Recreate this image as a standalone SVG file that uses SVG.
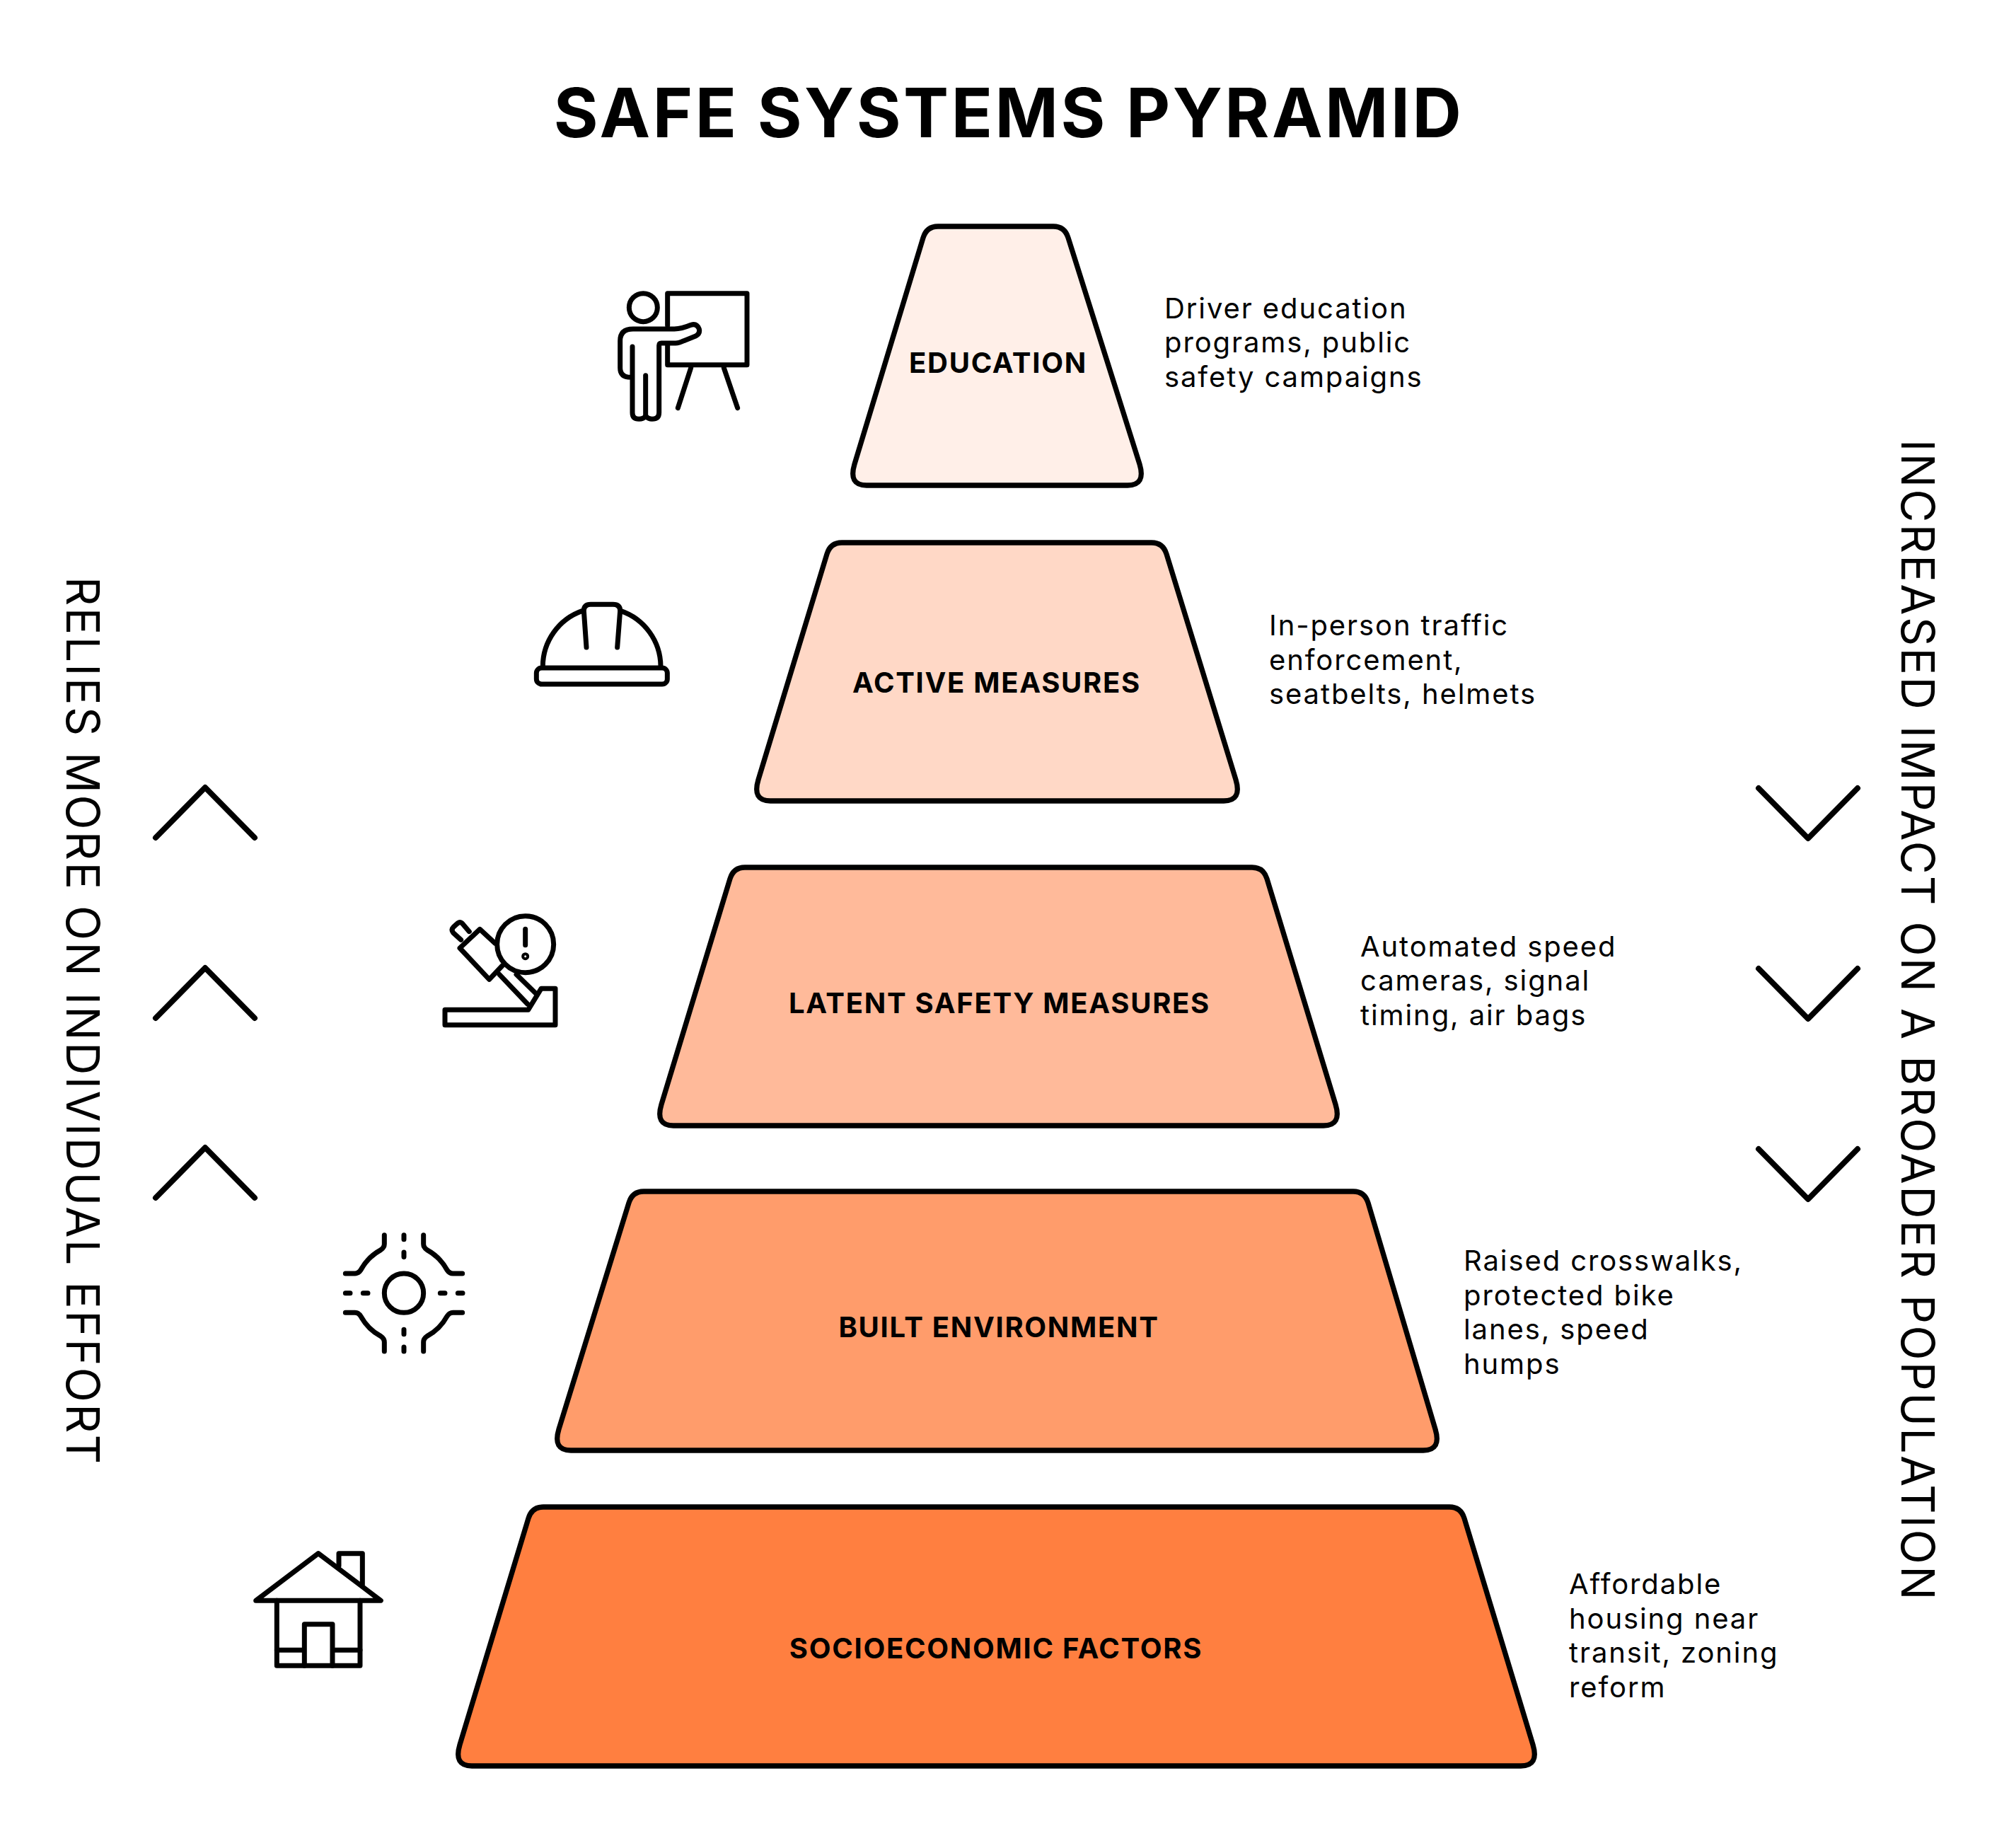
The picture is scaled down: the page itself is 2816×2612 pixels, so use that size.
<svg xmlns="http://www.w3.org/2000/svg" width="2816" height="2612" viewBox="0 0 2816 2612">
<style>
text{font-family:Inter,"Liberation Sans",sans-serif;fill:#000}
.title{font-size:96px;font-weight:700;letter-spacing:3.5px;text-anchor:middle}
.lab{font-size:40px;font-weight:700;letter-spacing:1.7px;text-anchor:middle}
.desc{font-size:40px;letter-spacing:1.9px}
.side{font-size:64px;letter-spacing:2.5px}
.trap{stroke:#000;stroke-width:7.3;stroke-linejoin:round}
.ic{fill:none;stroke:#000;stroke-width:21;stroke-linecap:round;stroke-linejoin:round}
.chev{fill:none;stroke:#000;stroke-width:8;stroke-linecap:round;stroke-linejoin:round}
</style>
<rect width="2816" height="2612" fill="#fff"/>
<text class="title" x="1426" y="194">SAFE SYSTEMS PYRAMID</text>
<g id="education">
<path class="trap" fill="#FFEFE8" d="M1305,336 Q1310,320 1326,320 H1489 Q1505,320 1510,336 L1611,656 Q1620,686 1594,686 H1225 Q1199,686 1208,656 Z"/>
<text class="lab" x="1411" y="527">EDUCATION</text>
<text class="desc"><tspan x="1646" y="450">Driver education</tspan><tspan x="1646" y="498">programs, public</tspan><tspan x="1646" y="547">safety campaigns</tspan></text>
<g class="ic" transform="translate(820 360) scale(.33333)">
<circle cx="268" cy="224" r="60"/>
<path d="M371,300 V164 H708 V467 H371 V385"/>
<path d="M470,480 L415,650 M610,480 L668,650"/>
<path d="M222,390 V670 Q222,697 250,697 Q268,697 278,685 Q290,697 305,697 Q335,697 335,670 V385 Q335,375 345,375 H405 Q420,375 440,365 L490,345 Q510,335 505,315 Q495,290 470,298 Q430,315 400,315 H225 Q170,315 170,365 V480 Q170,520 215,520"/>
<path d="M278,512 V685"/>
</g>
</g>
<g id="active-measures">
<path class="trap" fill="#FFD8C6" d="M1169,783 Q1174,767 1190,767 H1628 Q1644,767 1649,783 L1747,1102 Q1756,1132 1730,1132 H1089 Q1063,1132 1072,1102 Z"/>
<text class="lab" x="1409" y="979">ACTIVE MEASURES</text>
<text class="desc"><tspan x="1794" y="898">In-person traffic</tspan><tspan x="1794" y="947">enforcement,</tspan><tspan x="1794" y="995">seatbelts, helmets</tspan></text>
<g class="ic" transform="translate(720 820) scale(.33333)">
<path d="M142,365 A250,250 0 0 1 310,130 M472,130 A250,250 0 0 1 642,365"/>
<rect x="115" y="372" width="555" height="69" rx="22"/>
<path d="M327,285 L316,130 Q316,103 345,103 H440 Q470,103 470,130 L458,285"/>
</g>
</g>
<g id="latent-safety-measures">
<path class="trap" fill="#FFBA9A" d="M1032,1242 Q1037,1226 1053,1226 H1770 Q1786,1226 1791,1242 L1888,1561 Q1897,1591 1871,1591 H952 Q926,1591 935,1561 Z"/>
<text class="lab" x="1413" y="1432">LATENT SAFETY MEASURES</text>
<text class="desc"><tspan x="1923" y="1352">Automated speed</tspan><tspan x="1923" y="1400">cameras, signal</tspan><tspan x="1923" y="1449">timing, air bags</tspan></text>
<g class="ic" transform="translate(600 1270) scale(.33333)">
<circle cx="428" cy="194" r="120"/>
<path d="M428,130 V197"/>
<circle cx="428" cy="245" r="6"/>
<path d="M300,190 L235,130 L150,210 L275,343 L330,285"/>
<path d="M190,140 L160,105 Q150,95 135,110 L122,122 Q112,132 122,145 L155,175"/>
<path d="M318,322 L437,447 M390,322 L475,405"/>
<path d="M440,472 H87 V536 H555 V382 H495 Z"/>
</g>
</g>
<g id="built-environment">
<path class="trap" fill="#FF9C6B" d="M889,1700 Q894,1684 910,1684 H1913 Q1929,1684 1934,1700 L2029,2020 Q2038,2050 2012,2050 H807 Q781,2050 790,2020 Z"/>
<text class="lab" x="1412" y="1890">BUILT ENVIRONMENT</text>
<text class="desc"><tspan x="2069" y="1796">Raised crosswalks,</tspan><tspan x="2069" y="1845">protected bike</tspan><tspan x="2069" y="1893">lanes, speed</tspan><tspan x="2069" y="1942">humps</tspan></text>
<g class="ic" transform="translate(460 1720) scale(.33333)">
<circle cx="333" cy="323" r="83"/>
<path d="M333,77 V95 M333,150 V170 M333,478 V497 M333,552 V570 M85,323 H105 M160,323 H180 M487,323 H507 M562,323 H582"/>
<path d="M250,77 V115 Q250,130 235,140 Q180,170 150,225 Q140,240 125,240 H85"/>
<path d="M416,77 V115 Q416,130 431,140 Q486,170 516,225 Q526,240 541,240 H581"/>
<path d="M250,570 V531 Q250,516 235,506 Q180,476 150,421 Q140,406 125,406 H85"/>
<path d="M416,570 V531 Q416,516 431,506 Q486,476 516,421 Q526,406 541,406 H581"/>
</g>
</g>
<g id="socioeconomic-factors">
<path class="trap" fill="#FF7F40" d="M747,2146 Q752,2130 768,2130 H2049 Q2065,2130 2070,2146 L2167,2466 Q2176,2496 2150,2496 H667 Q641,2496 650,2466 Z"/>
<text class="lab" x="1408" y="2344">SOCIOECONOMIC FACTORS</text>
<text class="desc"><tspan x="2218" y="2253">Affordable</tspan><tspan x="2218" y="2302">housing near</tspan><tspan x="2218" y="2350">transit, zoning</tspan><tspan x="2218" y="2399">reform</tspan></text>
<g class="ic" transform="translate(340 2170) scale(.33333)">
<path d="M65,277 L330,77 L595,277 Z"/>
<path d="M417,130 V77 H517 V210"/>
<path d="M154,277 V553 H507 V277"/>
<path d="M271,553 V377 H390 V553 M154,487 H271 M390,487 H507"/>
</g>
</g>
<g id="connectors">
<path class="chev" d="M220,1184 L290,1113 L360,1184"/>
<path class="chev" d="M220,1439 L290,1368 L360,1439"/>
<path class="chev" d="M220,1693 L290,1622 L360,1693"/>
<path class="chev" d="M2486,1114 L2556,1185 L2626,1114"/>
<path class="chev" d="M2486,1369 L2556,1440 L2626,1369"/>
<path class="chev" d="M2486,1624 L2556,1695 L2626,1624"/>
</g>
<text class="side" transform="translate(94 815) rotate(90)">RELIES MORE ON INDIVIDUAL EFFORT</text>
<text class="side" transform="translate(2688 621) rotate(90)">INCREASED IMPACT ON A BROADER POPULATION</text>
</svg>
